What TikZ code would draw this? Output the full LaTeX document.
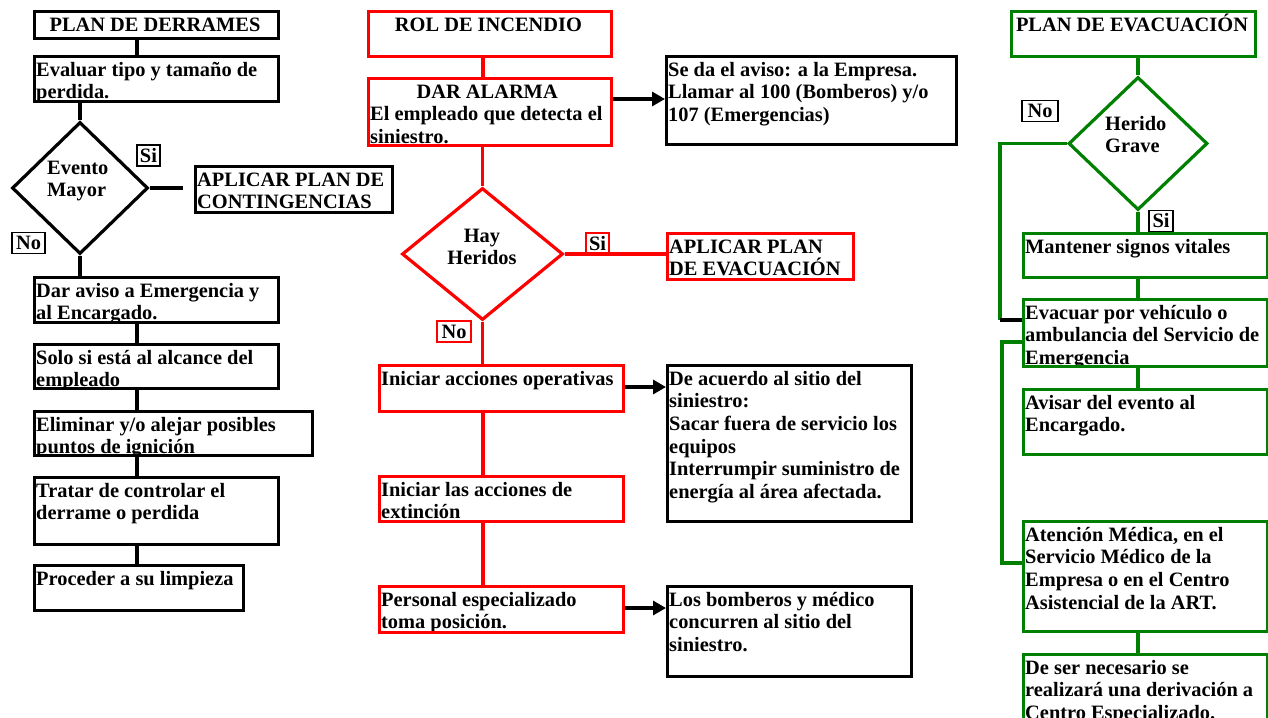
\documentclass[tikz,border=0pt]{standalone}
\usepackage{fontspec}
\setmainfont{Liberation Serif}
\usetikzlibrary{shapes.geometric,arrows.meta}
\definecolor{gr}{RGB}{0,128,0}
\definecolor{rd}{RGB}{255,0,0}
\newcommand\ffs{\fontsize{20.4}{22.6}\selectfont\bfseries}
\newcommand\sr{\rule{0pt}{18pt}}
% name x1 y1 x2 y2 color text  (left aligned text)
\newcommand\lbox[7]{%
  \begin{scope}\clip (#2,#3) rectangle (#4,#5);
    \node[txt, anchor=north west] (#1t) at ({#2+3},{#3+3}) {\sr#7};
  \end{scope}
  \node[bx, draw=#6, minimum width={#4pt-#2pt}, minimum height={#5pt-#3pt}, anchor=north west] (#1) at (#2,#3) {};}
% centered text
\newcommand\cbox[7]{%
  \begin{scope}\clip (#2,#3) rectangle (#4,#5);
    \node[txt, align=center, anchor=north] (#1t) at ({(#2+#4)/2},{#3+3}) {\sr#7};
  \end{scope}
  \node[bx, draw=#6, minimum width={#4pt-#2pt}, minimum height={#5pt-#3pt}, anchor=north west] (#1) at (#2,#3) {};}
\begin{document}
\begin{tikzpicture}[x=1pt,y=-1pt,
  txt/.style={inner sep=0pt, font=\ffs, align=left, text=black},
  bx/.style={rectangle, inner sep=0pt, line width=3.2pt},
  dm/.style={diamond, inner sep=0pt, line width=3.2pt},
  lb/.style={rectangle, draw, line width=1.3pt, inner sep=0pt, font=\ffs, minimum height=21pt},
  kl/.style={line width=3.2pt, draw=black},
  rl/.style={line width=3.2pt, draw=rd},
  gl/.style={line width=3.2pt, draw=gr},
  arr/.style={kl, -{Triangle[length=13pt,width=14pt]}}]
\useasboundingbox (0,0) rectangle (1268,717);
\fill[white] (0,0) rectangle (1268,717);
\clip (0,0) rectangle (1268,717);

% ---------------- left column ----------------
\cbox{L0}{33}{10}{277}{37}{black}{PLAN DE DERRAMES}
\lbox{L1}{33}{55}{277}{100}{black}{Evaluar tipo y tamaño de\\perdida.}
\node[dm, draw=black, minimum width=136pt, minimum height=132pt] (D1) at (80,188) {};
\node[txt, anchor=north west] (D1t) at (47,156) {\sr Evento\\Mayor};
\lbox{LA}{194}{165}{391}{211}{black}{APLICAR PLAN DE\\CONTINGENCIAS}
\lbox{L2}{33}{276}{277}{321}{black}{Dar aviso a Emergencia y\\al Encargado.}
\lbox{L3}{33}{343}{277}{387}{black}{Solo si está al alcance del\\empleado}
\lbox{L4}{33}{410}{311}{454}{black}{Eliminar y/o alejar posibles\\puntos de ignición}
\lbox{L5}{33}{476}{277}{543}{black}{Tratar de controlar el\\derrame o perdida}
\lbox{L6}{33}{564}{242}{609}{black}{Proceder a su limpieza}
\node[lb, minimum width=23pt] (LSi) at (148.5,155.5) {Si};
\node[lb, minimum width=33pt] (LNo) at (28.5,243) {No};

\coordinate (xL) at (137,0);
\coordinate (eS1) at (183,188);
\draw[kl] (xL |- L0.south) -- (xL |- L1.north);
\draw[kl] (D1.north |- L1.south) -- (D1.north);
\draw[kl] (D1.east) -- (eS1);
\draw[kl] (D1.south) -- (D1.south |- L2.north);
\draw[kl] (xL |- L2.south) -- (xL |- L3.north);
\draw[kl] (xL |- L3.south) -- (xL |- L4.north);
\draw[kl] (xL |- L4.south) -- (xL |- L5.north);
\draw[kl] (xL |- L5.south) -- (xL |- L6.north);

% ---------------- middle column ----------------
\cbox{M0}{367}{10}{610}{55}{rd}{ROL DE INCENDIO}
\lbox{M1}{367}{77}{610}{144}{rd}{\makebox[234pt][c]{DAR ALARMA}\\El empleado que detecta el\\siniestro.}
\lbox{MB1}{665}{55}{955}{143}{black}{Se da el aviso: a la Empresa.\\Llamar al 100 (Bomberos) y/o\\107 (Emergencias)}
\node[dm, draw=rd, minimum width=161pt, minimum height=132pt] (D2) at (482.5,254) {};
\node[txt, anchor=north, align=center] (D2t) at (482,224) {\sr Hay\\Heridos};
\lbox{MA}{666}{232}{852}{278}{rd}{APLICAR PLAN\\DE EVACUACIÓN}
\node[lb, draw=rd, minimum width=23pt] (MSi) at (597.5,243.5) {Si};
\node[lb, draw=rd, minimum width=34pt] (MNo) at (454,331.5) {No};
\lbox{M2}{378}{364}{622}{410}{rd}{Iniciar acciones operativas}
\lbox{MB2}{666}{364}{910}{520}{black}{De acuerdo al sitio del\\siniestro:\\Sacar fuera de servicio los\\equipos\\Interrumpir suministro de\\energía al área afectada.}
\lbox{M3}{378}{475}{622}{520}{rd}{Iniciar las acciones de\\extinción}
\lbox{M4}{378}{585}{622}{631}{rd}{Personal especializado\\toma posición.}
\lbox{MB3}{666}{585}{910}{675}{black}{Los bomberos y médico\\concurren al sitio del\\siniestro.}

\coordinate (xM) at (483,0);
\coordinate (yA1) at (0,99);
\coordinate (yA2) at (0,387);
\coordinate (yA3) at (0,608);
\draw[rl] (xM |- M0.south) -- (xM |- M1.north);
\draw[rl] (D2.north |- M1.south) -- (D2.north);
\draw[rl] (D2.east) -- (D2.east -| MA.west);
\draw[rl] (D2.south) -- (D2.south |- M2.north);
\draw[rl] (xM |- M2.south) -- (xM |- M3.north);
\draw[rl] (xM |- M3.south) -- (xM |- M4.north);
\draw[arr] (M1.east |- yA1) -- (MB1.west |- yA1);
\draw[arr] (M2.east |- yA2) -- (MB2.west |- yA2);
\draw[arr] (M4.east |- yA3) -- (MB3.west |- yA3);

% ---------------- right column ----------------
\cbox{R0}{1010}{10}{1254}{55}{gr}{PLAN DE EVACUACIÓN}
\node[dm, draw=gr, minimum width=139pt, minimum height=133pt] (D3) at (1138,143.5) {};
\node[txt, anchor=north west] (D3t) at (1105,112) {\sr Herido\\Grave};
\node[lb, minimum width=36pt] (RNo) at (1040,111) {No};
\node[lb, minimum width=24pt] (RSi) at (1161,221) {Si};
\lbox{R1}{1022}{232}{1266}{276}{gr}{Mantener signos vitales}
\lbox{R2}{1022}{298}{1266}{365}{gr}{Evacuar por vehículo o\\ambulancia del Servicio de\\Emergencia}
\lbox{R3}{1022}{388}{1266}{453}{gr}{Avisar del evento al\\Encargado.}
\lbox{R4}{1022}{520}{1266}{630}{gr}{Atención Médica, en el\\Servicio Médico de la\\Empresa o en el Centro\\Asistencial de la ART.}
\lbox{R5}{1022}{653}{1266}{760}{gr}{De ser necesario se\\realizará una derivación a\\Centro Especializado.}

\coordinate (xR) at (1138,0);
\coordinate (rc1) at (1000,144);
\coordinate (rc2) at (1000,320);
\coordinate (rc3) at (1002,342);
\coordinate (rc4) at (1002,563);
\draw[gl] (xR |- R0.south) -- (D3.north);
\draw[gl] (D3.south) -- (D3.south |- R1.north);
\draw[gl] (xR |- R1.south) -- (xR |- R2.north);
\draw[gl] (xR |- R2.south) -- (xR |- R3.north);
\draw[gl] (xR |- R4.south) -- (xR |- R5.north);
\draw[gl] (D3.west) -- (D3.west -| rc1) -- (rc2);
\draw[kl] (rc2) -- (rc2 -| R2.west);
\draw[gl] (R2.west |- rc3) -- (rc3) -- (rc4) -- (rc4 -| R4.west);
\end{tikzpicture}
\end{document}
